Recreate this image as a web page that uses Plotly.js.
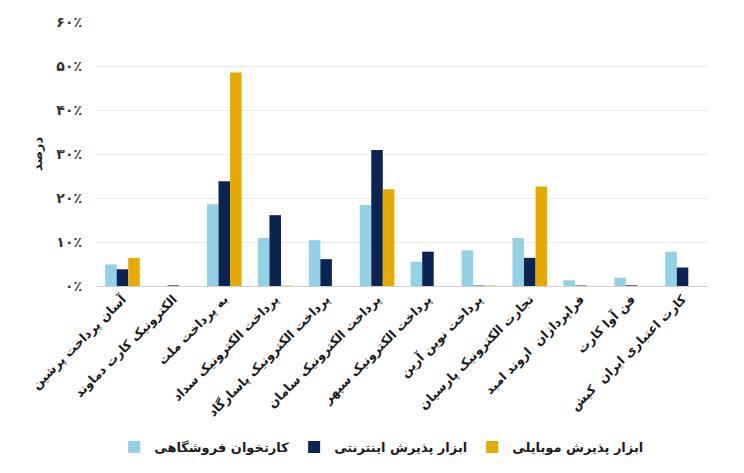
<!DOCTYPE html>
<html><head><meta charset="utf-8">
<script src="https://cdn.plot.ly/plotly-3.0.1.min.js"></script>
<style>html,body{margin:0;padding:0;background:#fff}#chart{width:744px;height:473px}</style>
</head><body><div id="chart"></div>
<script>
const categories = [
  "آسان پرداخت پرشین",
  "الکترونیک کارت دماوند",
  "به پرداخت ملت",
  "پرداخت الکترونیک سداد",
  "پرداخت الکترونیک پاسارگاد",
  "پرداخت الکترونیک سامان",
  "پرداخت الکترونیک سپهر",
  "پرداخت نوین آرین",
  "تجارت الکترونیک پارسیان",
  "فراپردازان  اروند امید",
  "فن آوا کارت",
  "کارت اعتباری ایران  کیش"
];
const seriesNames = ["کارتخوان فروشگاهی", "ابزار پذیرش اینترنتی", "ابزار پذیرش موبایلی"];
const retailPOS = [4.9, 0, 18.6, 10.9, 10.4, 18.4, 5.5, 8.1, 10.9, 1.3, 1.9, 7.8];
const internet  = [3.8, 0.15, 23.8, 16.1, 6.1, 30.9, 7.8, 0.1, 6.4, 0.1, 0.15, 4.2];
const mobile    = [6.4, 0, 48.5, 0.1, 0, 22.0, 0, 0.1, 22.6, 0, 0, 0];
const tickVals = [0, 10, 20, 30, 40, 50, 60];
const tickText = ["۰٪", "۱۰٪", "۲۰٪", "۳۰٪", "۴۰٪", "۵۰٪", "۶۰٪"];
const yTitle = "درصد";

const colors = ["#93D2E4", "#0B2454", "#E7AA00"];
const fam = "DejaVu Sans, sans-serif";
const data = [retailPOS, internet, mobile].map((vals, i) => ({
  type: "bar", x: categories, y: vals, name: seriesNames[i],
  marker: {color: colors[i]}, hoverinfo: "none"
}));
const layout = {
  width: 744, height: 473,
  margin: {l: 97, r: 36, t: 22, b: 186},
  paper_bgcolor: "#fff", plot_bgcolor: "#fff",
  barmode: "group", bargap: 0.32, bargroupgap: 0,
  font: {family: fam, color: "#1a1a1a"},
  xaxis: {
    tickangle: -45, tickfont: {size: 12.5, family: fam, weight: "bold", color: "#1a1a1a"},
    showline: true, linecolor: "#d0d0d0", linewidth: 1, ticks: "", showgrid: false,
    automargin: false
  },
  yaxis: {
    range: [0, 60], tickvals: tickVals, ticktext: tickText,
    tickfont: {size: 14, family: fam, weight: "bold", color: "#333"},
    showgrid: true, gridcolor: "#ececec", zeroline: false, showline: false,
    ticks: "", ticklen: 0, ticklabelstandoff: 14, automargin: false,
    title: {text: yTitle, font: {size: 13, family: fam, weight: "bold", color: "#222"}, standoff: 10}
  },
  showlegend: true,
  legend: {
    orientation: "h", x: 0.466, xanchor: "center", y: -0.604, yanchor: "middle",
    font: {size: 13, family: fam, weight: "bold", color: "#1a1a1a"},
    itemwidth: 30, traceorder: "normal"
  }
};
Plotly.newPlot("chart", data, layout, {displayModeBar: false, staticPlot: true});
</script></body></html>
